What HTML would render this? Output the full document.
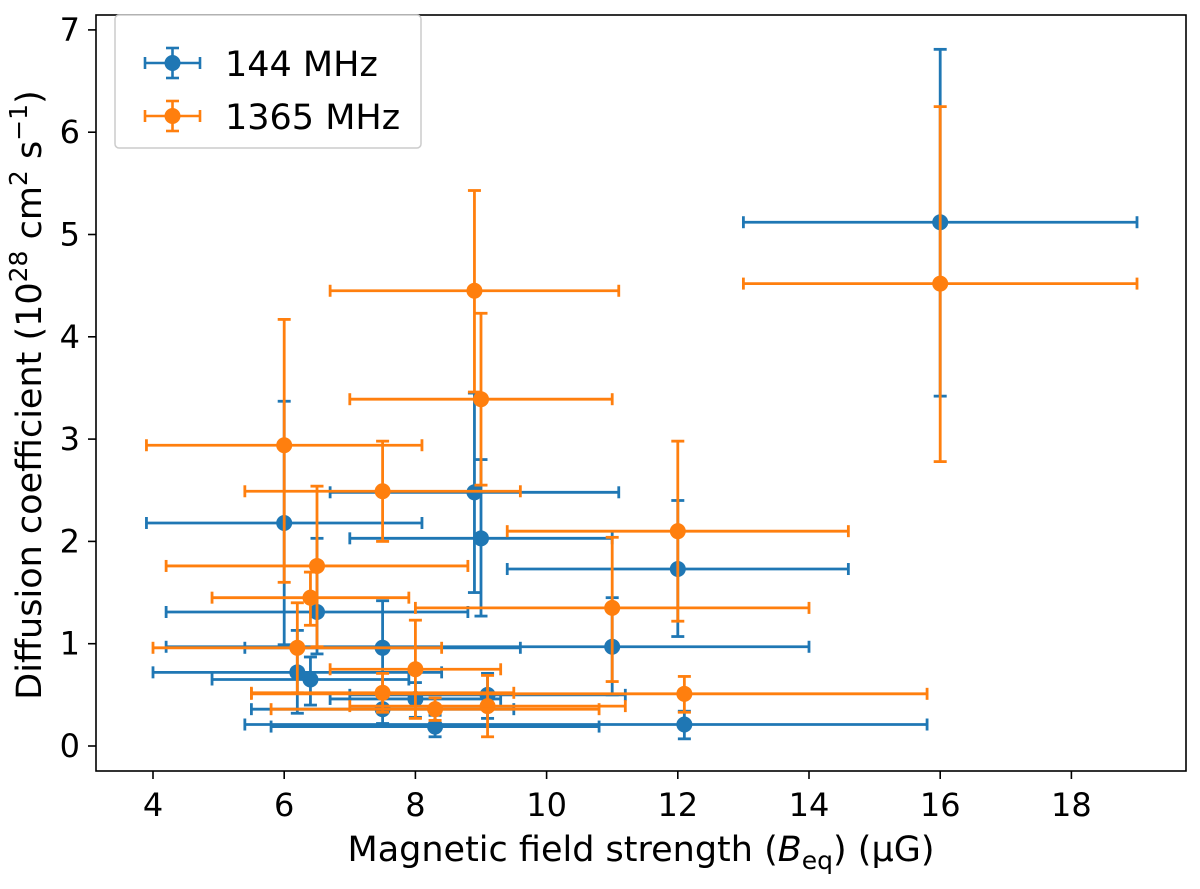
<!DOCTYPE html>
<html><head><meta charset="utf-8"><style>
html,body{margin:0;padding:0;background:#fff;}
svg text{font-family:"DejaVu Sans","Liberation Sans",sans-serif;fill:#000;}
</style></head><body>
<svg id="chart" width="1200" height="884" xmlns="http://www.w3.org/2000/svg">
<rect x="0" y="0" width="1200" height="884" fill="#fff"/>
<g id="marks"></g>
<rect x="96" y="15" width="1090" height="756" fill="none" stroke="#000" stroke-width="1.6"/>
<g id="axes"></g>
<text x="641" y="861" font-size="35" text-anchor="middle">Magnetic field strength (<tspan font-style="italic">B</tspan><tspan font-size="25" dy="8">eq</tspan><tspan dy="-8">) (μG)</tspan></text>
<text transform="translate(41,395) rotate(-90)" font-size="35" text-anchor="middle">Diffusion coefficient (10<tspan font-size="25" dy="-14">28</tspan><tspan dy="14"> cm</tspan><tspan font-size="25" dy="-14">2</tspan><tspan dy="14"> s</tspan><tspan font-size="25" dy="-14">−1</tspan><tspan dy="14">)</tspan></text>
<g>
<rect x="115" y="15" width="306" height="133" rx="4" fill="#fff" stroke="#ccc" stroke-width="1.5"/>
<g>
<line x1="145" y1="63" x2="200" y2="63" stroke="#1f77b4" stroke-width="2.6"/><line x1="145" y1="57" x2="145" y2="69" stroke="#1f77b4" stroke-width="2.6"/><line x1="200" y1="57" x2="200" y2="69" stroke="#1f77b4" stroke-width="2.6"/>
<line x1="172.5" y1="48" x2="172.5" y2="78" stroke="#1f77b4" stroke-width="2.6"/><line x1="166" y1="48" x2="179" y2="48" stroke="#1f77b4" stroke-width="2.6"/><line x1="166" y1="78" x2="179" y2="78" stroke="#1f77b4" stroke-width="2.6"/>
<circle cx="172.5" cy="63" r="8" fill="#1f77b4"/>
<text x="225" y="76" font-size="35">144 MHz</text></g>
<g>
<line x1="145" y1="116" x2="200" y2="116" stroke="#ff7f0e" stroke-width="2.6"/><line x1="145" y1="110" x2="145" y2="122" stroke="#ff7f0e" stroke-width="2.6"/><line x1="200" y1="110" x2="200" y2="122" stroke="#ff7f0e" stroke-width="2.6"/>
<line x1="172.5" y1="101" x2="172.5" y2="131" stroke="#ff7f0e" stroke-width="2.6"/><line x1="166" y1="101" x2="179" y2="101" stroke="#ff7f0e" stroke-width="2.6"/><line x1="166" y1="131" x2="179" y2="131" stroke="#ff7f0e" stroke-width="2.6"/>
<circle cx="172.5" cy="116" r="8" fill="#ff7f0e"/>
<text x="225" y="129" font-size="35">1365 MHz</text></g>
</g>
</svg>
<script>
const xTicks=[4,6,8,10,12,14,16,18];
const yTicks=[0,1,2,3,4,5,6,7];
// 144 MHz
const bX=[16,6.0,8.9,9.0,12.0,6.5,7.5,11.0,6.2,6.4,8.0,7.5,9.1,8.3,12.1];
const bY=[5.12,2.18,2.48,2.03,1.73,1.31,0.96,0.97,0.72,0.65,0.46,0.36,0.50,0.19,0.21];
const bXlo=[13.0,3.9,6.7,7.0,9.4,4.2,5.4,4.2,4.0,4.9,6.7,5.5,7.0,5.8,5.4];
const bXhi=[19.0,8.1,11.1,11.0,14.6,8.8,9.6,14.0,8.4,7.9,9.3,9.5,11.2,10.8,15.8];
const bYlo=[3.42,0.99,1.50,1.27,1.07,0.90,0.50,0.50,0.32,0.40,0.28,0.22,0.27,0.09,0.07];
const bYhi=[6.81,3.37,3.45,2.80,2.40,2.03,1.42,1.45,1.13,0.87,0.62,0.52,0.71,0.30,0.34];
// 1365 MHz
const oX=[16,6.0,8.9,9.0,12.0,6.5,7.5,11.0,6.2,6.4,8.0,7.5,9.1,8.3,12.1];
const oY=[4.52,2.94,4.45,3.39,2.10,1.76,2.49,1.35,0.96,1.45,0.75,0.52,0.39,0.36,0.51];
const oXlo=[13.0,3.9,6.7,7.0,9.4,4.2,5.4,8.0,4.0,4.9,6.7,5.5,7.0,5.8,5.5];
const oXhi=[19.0,8.1,11.1,11.0,14.6,8.8,9.6,14.0,8.4,7.9,9.3,9.5,11.2,10.8,15.8];
const oYlo=[2.78,1.60,3.46,2.55,1.22,0.97,2.00,0.63,0.52,1.18,0.27,0.33,0.09,0.25,0.33];
const oYhi=[6.25,4.17,5.43,4.23,2.98,2.54,2.98,2.04,1.40,1.70,1.23,0.71,0.69,0.47,0.68];

const NS="http://www.w3.org/2000/svg";
function sx(v){return 153+(v-4)*65.6;}
function sy(v){return 746-v*102.3;}
function mk(tag,attrs,parent){const e=document.createElementNS(NS,tag);for(const k in attrs)e.setAttribute(k,attrs[k]);parent.appendChild(e);return e;}
const axes=document.getElementById('axes');
xTicks.forEach(t=>{
  const g=mk('g',{},axes);
  
  
  mk('line',{x1:sx(t),y1:771,x2:sx(t),y2:779,stroke:'#000','stroke-width':1.6},g);
  const tx=mk('text',{x:sx(t),y:816,'font-size':32,'text-anchor':'middle'},g);tx.textContent=t;
});
yTicks.forEach(t=>{
  const g=mk('g',{},axes);
  
  
  mk('line',{x1:88,y1:sy(t),x2:96,y2:sy(t),stroke:'#000','stroke-width':1.6},g);
  const tx=mk('text',{x:80,y:sy(t)+11,'font-size':32,'text-anchor':'end'},g);tx.textContent=t;
});
const marks=document.getElementById('marks');
function series(X,Y,Xlo,Xhi,Ylo,Yhi,col,name){
  const sg=mk('g',{},marks);
  
  
  for(let i=0;i<X.length;i++){
    const g=mk('g',{},sg);
    
    
    const s={stroke:col,'stroke-width':2.8};
    const cx=sx(X[i]),cy=sy(Y[i]);
    mk('line',Object.assign({x1:sx(Xlo[i]),y1:cy,x2:sx(Xhi[i]),y2:cy},s),g);
    mk('line',Object.assign({x1:sx(Xlo[i]),y1:cy-6,x2:sx(Xlo[i]),y2:cy+6},s),g);
    mk('line',Object.assign({x1:sx(Xhi[i]),y1:cy-6,x2:sx(Xhi[i]),y2:cy+6},s),g);
    mk('line',Object.assign({x1:cx,y1:sy(Ylo[i]),x2:cx,y2:sy(Yhi[i])},s),g);
    mk('line',Object.assign({x1:cx-6.5,y1:sy(Ylo[i]),x2:cx+6.5,y2:sy(Ylo[i])},s),g);
    mk('line',Object.assign({x1:cx-6.5,y1:sy(Yhi[i]),x2:cx+6.5,y2:sy(Yhi[i])},s),g);
    mk('circle',{cx:cx,cy:cy,r:8,fill:col},g);
  }
}
series(bX,bY,bXlo,bXhi,bYlo,bYhi,'#1f77b4','144mhz');
series(oX,oY,oXlo,oXhi,oYlo,oYhi,'#ff7f0e','1365mhz');
</script>
</body></html>
